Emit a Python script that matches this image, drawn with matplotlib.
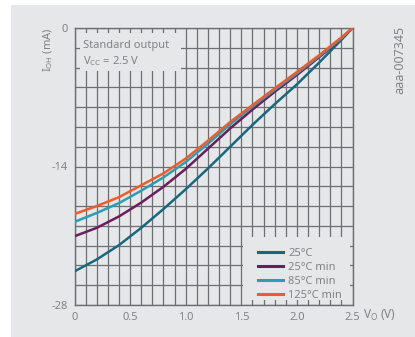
import numpy as np
import matplotlib.pyplot as plt
from matplotlib.patches import Rectangle

plt.rcParams['font.family'] = ['Noto Sans', 'DejaVu Sans']
plt.rcParams['mathtext.fontset'] = 'custom'
plt.rcParams['mathtext.rm'] = 'Noto Sans'
plt.rcParams['mathtext.it'] = 'Noto Sans'
plt.rcParams['axes.unicode_minus'] = False

# output voltage (V) and high-level output current (mA)
vo = [0, 0.2, 0.4, 0.6, 0.8, 1.0, 1.2, 1.4, 1.6, 1.8, 2.0, 2.2, 2.4, 2.5]
ioh_25 = [-24.6, -23.4, -21.95, -20.2, -18.3, -16.3, -14.2, -12.0, -9.8, -7.7, -5.7, -3.5, -1.2, 0]
ioh_25min = [-21.05, -20.2, -19.05, -17.65, -16.05, -14.25, -12.2, -10.15, -8.25, -6.45, -4.75, -2.95, -1.1, 0]
ioh_85min = [-19.6, -18.7, -17.7, -16.45, -15.1, -13.55, -11.7, -9.75, -7.95, -6.25, -4.6, -2.85, -1.05, 0]
ioh_125min = [-18.8, -18.0, -17.1, -15.9, -14.7, -13.2, -11.4, -9.5, -7.8, -6.1, -4.45, -2.75, -0.95, 0]

series = [ioh_25, ioh_25min, ioh_85min, ioh_125min]
labels = ['25°C', '25°C min', '85°C min', '125°C min']
colors = ['#17687e', '#6b1e5c', '#2a9fb1', '#f15a29']

xticks = [0, 0.5, 1.0, 1.5, 2.0, 2.5]
xticklabels = ['0', '0.5', '1.0', '1.5', '2.0', '2.5']
yticks = [0, -14, -28]

bg = '#e6e7e8'
grey = '#808285'
gridc = '#6d6e71'

fig = plt.figure(figsize=(4.15, 3.37), dpi=100)
fig.patch.set_facecolor('white')
fig.patches.append(Rectangle((11/415, 0), 1, 1 - 5/337, transform=fig.transFigure,
                             fc=bg, ec='none', zorder=-10))

ax = fig.add_axes([74.5/415, 32/337, 278/415, 277/337])
ax.set_facecolor(bg)
ax.set_xlim(0, 2.5)
ax.set_ylim(-28, 0)

ax.set_xticks(xticks)
ax.set_xticklabels(xticklabels)
ax.set_yticks(yticks)
ax.set_xticks(np.arange(0, 2.51, 0.1), minor=True)
ax.set_yticks(np.arange(-28, 0.1, 2), minor=True)
ax.tick_params(which='both', length=0, colors=grey, labelsize=8)
ax.tick_params(axis='x', pad=5)
ax.tick_params(axis='y', pad=5)
ax.grid(which='both', color=gridc, lw=0.9)
ax.set_axisbelow(True)
for sp in ax.spines.values():
    sp.set_color(gridc)
    sp.set_linewidth(1.0)

for ys, lab, c in zip(series, labels, colors):
    ax.plot(vo, ys, color=c, lw=1.8, label=lab, zorder=3)

# boxes that mask the grid behind the annotation and the legend
ax.add_patch(Rectangle((0.02, 0.845), 0.364, 0.137, transform=ax.transAxes,
                       fc=bg, ec='none', zorder=2.5))
ax.text(0.032, 0.936, 'Standard output', transform=ax.transAxes, fontsize=8,
        color=grey, va='center', ha='left', zorder=4)
ax.text(0.032, 0.882, r'V$_\mathrm{CC}$ = 2.5 V', transform=ax.transAxes, fontsize=8,
        color=grey, va='center', ha='left', zorder=4)

ax.add_patch(Rectangle((0.606, 0.018), 0.385, 0.227, transform=ax.transAxes,
                       fc=bg, ec='none', zorder=2.5))
leg = ax.legend(loc='lower left', bbox_to_anchor=(0.645, 0.0), frameon=False,
                fontsize=8, handlelength=2.2, handletextpad=0.5, labelspacing=0.25,
                borderaxespad=0)
leg.set_zorder(5)
for t in leg.get_texts():
    t.set_color(grey)
for h in leg.get_lines():
    h.set_linewidth(2.2)

fig.text(48/415, 1 - 50/337, r'I$_\mathrm{OH}$ (mA)', rotation=90, fontsize=8,
         color=grey, ha='center', va='center')
fig.text(363/415, 1 - 315/337, r'V$_\mathrm{O}$ (V)', fontsize=8.5,
         color=grey, ha='left', va='center')
fig.text(400/415, 1 - 60/337, 'aaa-007345', rotation=90, fontsize=9,
         color=grey, ha='center', va='center')

fig.savefig('out.png', dpi=100, facecolor=fig.get_facecolor())
